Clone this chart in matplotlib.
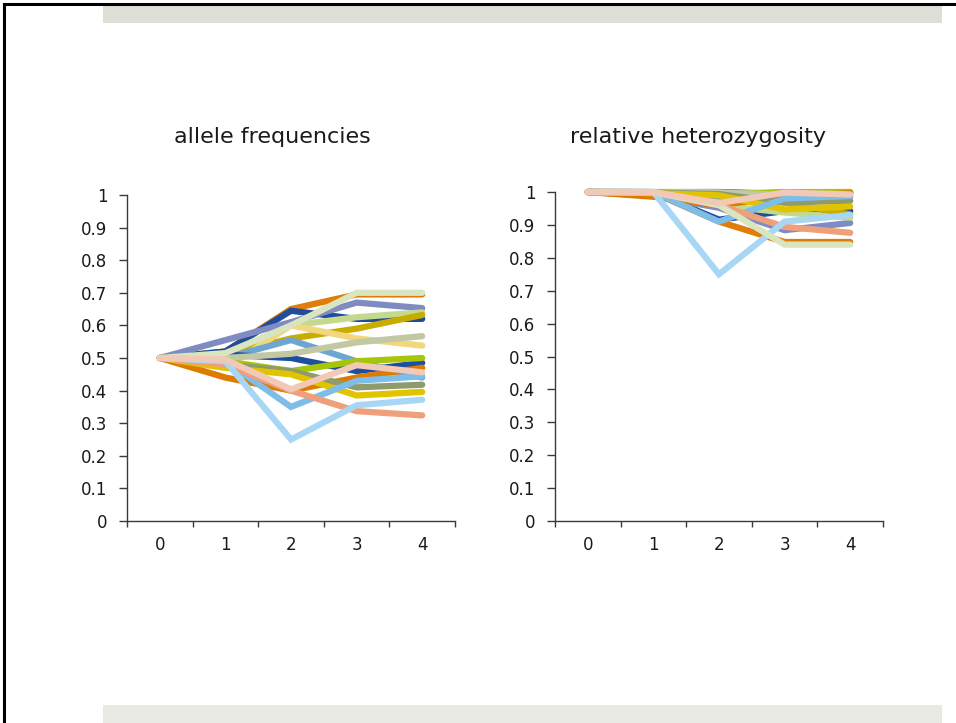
import matplotlib
matplotlib.use("Agg")
import matplotlib.pyplot as plt
from matplotlib.lines import Line2D
from matplotlib.patches import Rectangle

plt.rcParams["font.family"] = ["DejaVu Sans"]

generations = [0, 1, 2, 3, 4]
y_ticks = [0, 0.1, 0.2, 0.3, 0.4, 0.5, 0.6, 0.7, 0.8, 0.9, 1.0]
y_tick_labels = ["0", "0.1", "0.2", "0.3", "0.4", "0.5", "0.6", "0.7", "0.8", "0.9", "1"]

# allele frequency per replicate population
freq_orange_a = [0.5, 0.52, 0.65, 0.695, 0.695]
freq_darkblue_a = [0.5, 0.52, 0.645, 0.62, 0.62]
freq_purple = [0.5, 0.555, 0.61, 0.67, 0.653]
freq_lightgreen = [0.5, 0.5, 0.60, 0.625, 0.64]
freq_olive = [0.5, 0.51, 0.56, 0.59, 0.632]
freq_beige = [0.5, 0.47, 0.60, 0.56, 0.538]
freq_steel = [0.5, 0.5, 0.555, 0.49, 0.44]
freq_darkblue_b = [0.5, 0.51, 0.50, 0.46, 0.485]
freq_lime = [0.5, 0.49, 0.46, 0.49, 0.50]
freq_sage = [0.5, 0.5, 0.513, 0.548, 0.567]
freq_orange_b = [0.5, 0.44, 0.40, 0.44, 0.47]
freq_olivegrey = [0.5, 0.48, 0.46, 0.41, 0.418]
freq_gold = [0.5, 0.47, 0.45, 0.385, 0.396]
freq_skyblue = [0.5, 0.49, 0.35, 0.43, 0.444]
freq_salmon = [0.5, 0.48, 0.40, 0.337, 0.324]
freq_lightblue = [0.5, 0.49, 0.25, 0.355, 0.372]
freq_palegreen = [0.5, 0.515, 0.60, 0.70, 0.70]
freq_pink = [0.5, 0.495, 0.404, 0.478, 0.456]

# relative heterozygosity per replicate population
het_orange_a = [1.0, 0.998, 0.91, 0.848, 0.848]
het_darkblue_a = [1.0, 0.998, 0.916, 0.942, 0.942]
het_purple = [1.0, 0.988, 0.952, 0.884, 0.906]
het_lightgreen = [1.0, 1.0, 0.96, 0.9375, 0.922]
het_olive = [1.0, 0.9996, 0.986, 0.968, 0.932]
het_beige = [1.0, 0.9964, 0.96, 0.986, 0.994]
het_steel = [1.0, 1.0, 0.988, 0.9996, 0.986]
het_darkblue_b = [1.0, 0.9996, 1.0, 0.994, 0.999]
het_lime = [1.0, 0.9996, 0.994, 0.9996, 1.0]
het_sage = [1.0, 1.0, 0.9993, 0.991, 0.982]
het_orange_b = [1.0, 0.9856, 0.96, 0.9856, 0.9964]
het_olivegrey = [1.0, 0.9984, 0.9936, 0.968, 0.973]
het_gold = [1.0, 0.9964, 0.99, 0.947, 0.956]
het_skyblue = [1.0, 0.9996, 0.91, 0.98, 0.988]
het_salmon = [1.0, 0.9984, 0.96, 0.894, 0.876]
het_lightblue = [1.0, 0.9996, 0.75, 0.91, 0.93]
het_palegreen = [1.0, 0.9996, 0.96, 0.84, 0.84]
het_pink = [1.0, 0.9996, 0.9664, 0.998, 0.9926]

freq_series = [freq_orange_a, freq_darkblue_a, freq_purple, freq_lightgreen, freq_olive,
               freq_beige, freq_steel, freq_darkblue_b, freq_lime, freq_sage, freq_orange_b,
               freq_olivegrey, freq_gold, freq_skyblue, freq_salmon, freq_lightblue,
               freq_palegreen, freq_pink]
het_series = [het_orange_a, het_darkblue_a, het_purple, het_lightgreen, het_olive,
              het_beige, het_steel, het_darkblue_b, het_lime, het_sage, het_orange_b,
              het_olivegrey, het_gold, het_skyblue, het_salmon, het_lightblue,
              het_palegreen, het_pink]
colors = ["#E07D0A", "#1F4D9B", "#7F8CC2", "#C3D98D", "#C8AD00", "#F1D77D", "#6EA6D2",
          "#204E9E", "#A6C60A", "#C1C8A2", "#DD7A00", "#8F9B6C", "#E2C300", "#7DBDE8",
          "#EFA07B", "#A8D7F6", "#D8E5BE", "#F2C8B6"]

fig = plt.figure(figsize=(9.56, 7.23), dpi=100)
W, H = 956, 723

# slide decoration
fig.add_artist(Line2D([4 / W, 4 / W], [0, 1 - 4 / H], color="black", lw=2.2))
fig.add_artist(Line2D([4 / W, 1], [1 - 4 / H, 1 - 4 / H], color="black", lw=2.2))
fig.add_artist(Rectangle((103 / W, 1 - 23 / H), 839 / W, 17 / H, color="#DEDED6", lw=0))
fig.add_artist(Rectangle((103 / W, 0), 839 / W, 18 / H, color="#E9E9E3", lw=0))


def draw_panel(rect, data, title, title_x):
    ax = fig.add_axes(rect)
    for values, c in zip(data, colors):
        ax.plot(generations, values, color=c, lw=4.5, solid_capstyle="round",
                solid_joinstyle="miter", clip_on=False)
    ax.set_xlim(-0.5, 4.5)
    ax.set_ylim(0, 1)
    for s in ["top", "right"]:
        ax.spines[s].set_visible(False)
    for s in ["left", "bottom"]:
        ax.spines[s].set_color("#3A3A3A")
        ax.spines[s].set_linewidth(1.0)
    ax.set_xticks([-0.5, 0.5, 1.5, 2.5, 3.5, 4.5])
    ax.set_xticklabels([])
    ax.set_xticks(generations, minor=True)
    ax.set_xticklabels([str(g) for g in generations], minor=True)
    ax.tick_params(axis="x", which="major", direction="out", length=4.5, width=1, color="#3A3A3A")
    ax.tick_params(axis="x", which="minor", length=0, pad=11, labelsize=12, labelcolor="#1A1A1A")
    ax.set_yticks(y_ticks)
    ax.set_yticklabels(y_tick_labels)
    ax.tick_params(axis="y", direction="out", length=6, width=1, color="#3A3A3A",
                   pad=8, labelsize=12, labelcolor="#1A1A1A")
    fig.text(title_x / W, 1 - 137 / H, title, ha="center", va="center",
             fontsize=16, color="#1A1A1A")
    return ax


draw_panel([127 / W, 202 / H, 328 / W, 326 / H], freq_series, "allele frequencies", 272)
draw_panel([555 / W, 202 / H, 328 / W, 329 / H], het_series, "relative heterozygosity", 698)

fig.savefig("out.png", dpi=100)
